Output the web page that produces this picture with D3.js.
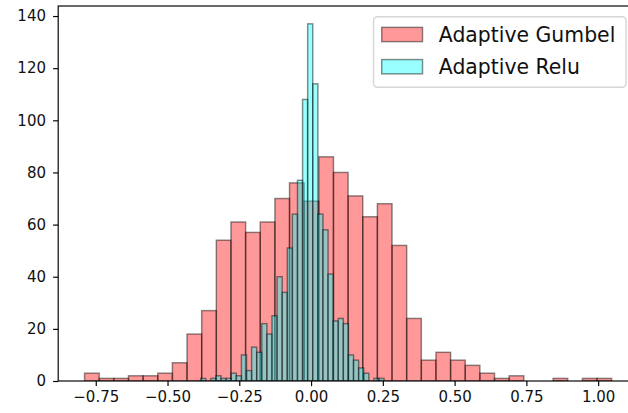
<!DOCTYPE html>
<html>
<head>
<meta charset="utf-8">
<script src="https://cdn.jsdelivr.net/npm/d3@7"></script>
<style>
  html, body { margin: 0; padding: 0; background: #fff; }
  svg { display: block; font-family: "DejaVu Sans", sans-serif; }
</style>
</head>
<body>
<svg id="chart" width="628" height="413"></svg>
<script>
// ---- data (histogram counts per bin) ----
const seriesNames = ["Adaptive Gumbel", "Adaptive Relu"];
const gumbelRange = [-0.789, 1.047];
const gumbelCounts = [3,1,1,2,2,3,7,18,27,54,61,57,61,70,76,69,86,80,71,63,68,52,24,8,11,8,6,3,1,2,0,0,1,0,1,1];
const reluRange = [-0.3846, 0.2544];
const reluCounts = [1,0,1,2,1,1,3,2,10,4,13,11,22,18,25,40,34,51,64,77,108,137,114,64,58,41,23,24,22,10,8,5,3,0,1,1];
const xTicks = [-0.75, -0.5, -0.25, 0, 0.25, 0.5, 0.75, 1.0];
const yTicks = [0, 20, 40, 60, 80, 100, 120, 140];

// ---- build bins (equal-width edges between range ends, like plt.hist) ----
function makeBins(range, counts) {
  const n = counts.length, w = (range[1] - range[0]) / n;
  return counts.map((c, i) => ({ x0: range[0] + i * w, x1: range[0] + (i + 1) * w, count: c }));
}
const gumbelBins = makeBins(gumbelRange, gumbelCounts);
const reluBins = makeBins(reluRange, reluCounts);

// ---- layout ----
const pt = 1.46;               // px per point
const plot = { left: 58.2, right: 638, top: 6, bottom: 381 };
const svg = d3.select("#chart");

const xMin = Math.min(gumbelRange[0], reluRange[0]);
const xMax = Math.max(gumbelRange[1], reluRange[1]);
const xPad = (xMax - xMin) * 0.05;
const x = d3.scaleLinear().domain([xMin - xPad, xMax + xPad]).range([plot.left, plot.right]);
const yMax = d3.max(gumbelCounts.concat(reluCounts)) * 1.05;
const y = d3.scaleLinear().domain([0, yMax]).range([plot.bottom, plot.top]);

const series = [
  { name: seriesNames[0], bins: gumbelBins, color: "red" },
  { name: seriesNames[1], bins: reluBins, color: "cyan" }
];
const alpha = 0.4;

svg.append("defs").append("clipPath").attr("id", "plotclip")
  .append("rect").attr("x", plot.left).attr("y", plot.top)
  .attr("width", plot.right - plot.left).attr("height", plot.bottom - plot.top);

const barsG = svg.append("g").attr("clip-path", "url(#plotclip)");
series.forEach(s => {
  barsG.append("g").selectAll("rect").data(s.bins).join("rect")
    .attr("x", d => x(d.x0))
    .attr("y", d => y(d.count))
    .attr("width", d => x(d.x1) - x(d.x0))
    .attr("height", d => y(0) - y(d.count))
    .attr("fill", s.color).attr("fill-opacity", alpha)
    .attr("stroke", "black").attr("stroke-opacity", alpha + 0.05)
    .attr("stroke-width", 1.0 * pt);
});

// ---- axes ----
const fmt = v => d3.format(".2f")(v).replace("-", "\u2212");
const xAxis = d3.axisBottom(x).tickValues(xTicks).tickFormat(fmt)
  .tickSize(3.5 * pt).tickPadding(3.5 * pt).tickSizeOuter(0);
const yAxis = d3.axisLeft(y).tickValues(yTicks).tickFormat(d3.format("d"))
  .tickSize(3.5 * pt).tickPadding(3.5 * pt + 2).tickSizeOuter(0);

const gx = svg.append("g").attr("transform", `translate(0,${plot.bottom})`).call(xAxis);
const gy = svg.append("g").attr("transform", `translate(${plot.left},0)`).call(yAxis);
[gx, gy].forEach(g => {
  g.select(".domain").remove();
  g.selectAll(".tick line").attr("stroke", "#000").attr("stroke-width", 0.8 * pt);
  g.selectAll(".tick text").attr("fill", "#111").attr("font-size", 15)
    .attr("font-family", "DejaVu Sans");
});
gx.selectAll(".tick text").attr("dy", "0.74em");

// spines
svg.append("rect")
  .attr("x", plot.left).attr("y", plot.top)
  .attr("width", plot.right - plot.left).attr("height", plot.bottom - plot.top)
  .attr("fill", "none").attr("stroke", "#000").attr("stroke-width", 0.8 * pt);

// ---- legend ----
const F = 20.4;
const leg = { right: 626, top: 16.7 };
const rowGap = 32.2;
const handleW = 2.0 * F, handleH = 0.7 * F;
const textW = 179;
const legW = 0.4 * F + handleW + 0.8 * F + textW + 0.4 * F;
const legH = 70.6;
const legX = leg.right - legW;
const lg = svg.append("g");
lg.append("rect")
  .attr("x", legX).attr("y", leg.top).attr("width", legW).attr("height", legH)
  .attr("rx", 4).attr("ry", 4)
  .attr("fill", "#fff").attr("fill-opacity", 0.8)
  .attr("stroke", "#ccc").attr("stroke-opacity", 0.8).attr("stroke-width", 1.0 * pt);
series.forEach((s, i) => {
  const cy = 34.5 + i * rowGap;
  const hx = legX + 0.4 * F;
  lg.append("rect")
    .attr("x", hx).attr("y", cy - handleH / 2).attr("width", handleW).attr("height", handleH)
    .attr("fill", s.color).attr("fill-opacity", alpha)
    .attr("stroke", "black").attr("stroke-opacity", alpha + 0.05).attr("stroke-width", 1.0 * pt);
  lg.append("text")
    .attr("x", hx + handleW + 0.8 * F).attr("y", cy + 0.35 * F)
    .attr("font-size", F).attr("fill", "#111")
    .text(s.name);
});
</script>
</body>
</html>
